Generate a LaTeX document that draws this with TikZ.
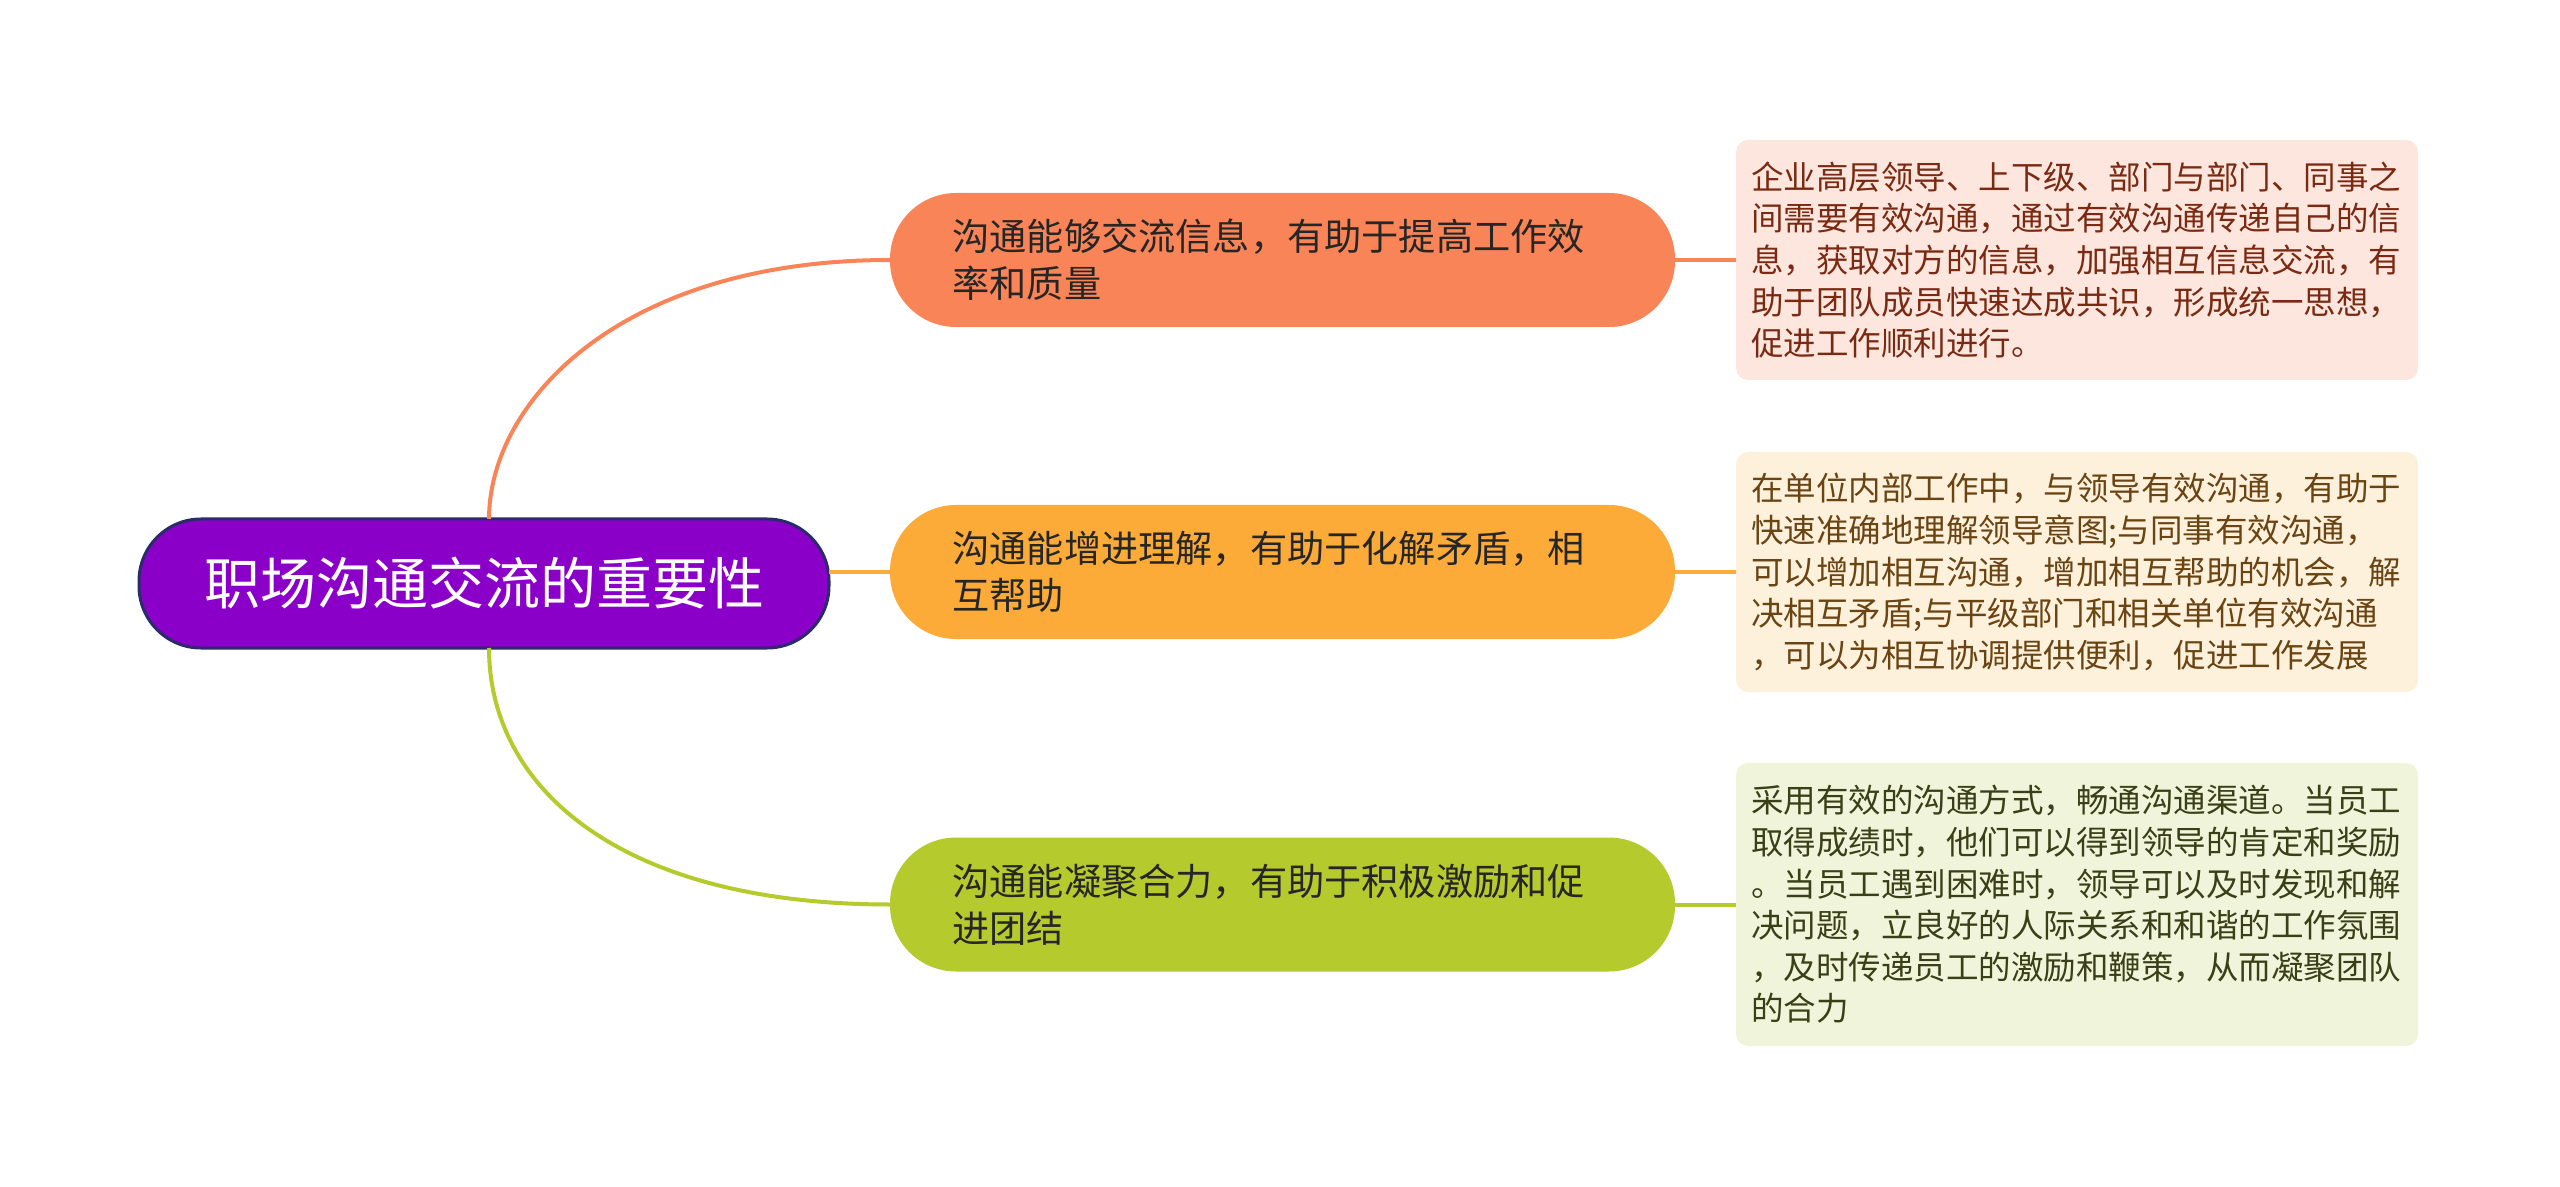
\documentclass[tikz,border=0pt]{standalone}
\usepackage{fontspec}
\setmainfont{Noto Sans CJK SC}
\usepackage{tikz}
\usetikzlibrary{positioning}
\definecolor{rootfill}{HTML}{8A00C8}
\definecolor{rootline}{HTML}{2B2B6B}
\definecolor{coral}{HTML}{F98457}
\definecolor{amber}{HTML}{FCAB38}
\definecolor{lime}{HTML}{B5CA2D}
\definecolor{coralbg}{HTML}{FDE6DE}
\definecolor{amberbg}{HTML}{FEF1DC}
\definecolor{limebg}{HTML}{F0F4DA}
\definecolor{coraltxt}{HTML}{7A2A12}
\definecolor{ambertxt}{HTML}{6A4412}
\definecolor{limetxt}{HTML}{3A3F18}

\begin{document}
\begin{tikzpicture}[x=0.5pt,y=-0.5pt,
    every node/.style={outer sep=0pt},
    rootbox/.style={fill=rootfill, draw=rootline, line width=1.5pt, rounded corners=31pt,
        minimum width=345pt, minimum height=64.5pt, text=white,
        font=\fontsize{28pt}{32pt}\selectfont},
    topic/.style={fill=#1, rounded corners=33pt, text width=330pt, align=left,
        inner xsep=31.25pt, minimum height=67pt, text=black!85,
        font=\fontsize{18.6pt}{23.5pt}\selectfont},
    note/.style={fill=#1, rounded corners=6pt, text width=326pt, align=left,
        inner xsep=7.5pt, font=\fontsize{16.25pt}{20.8pt}\selectfont},
    link/.style={draw=#1, line width=2pt}]
    \useasboundingbox (0,0) rectangle (2560,1187);

    \node[rootbox] (root) at (484,583.5) {职场沟通交流的重要性};

    \node[topic=coral] (t1) at (1282.5,260) {沟通能够交流信息，有助于提高工作效\\率和质量};
    \node[topic=amber] (t2) at (1282.5,572) {沟通能增进理解，有助于化解矛盾，相\\互帮助};
    \node[topic=lime] (t3) at (1282.5,904.5) {沟通能凝聚合力，有助于积极激励和促\\进团结};

    \node[note=coralbg, text=coraltxt, minimum height=120pt, right=30.5pt of t1] (n1)
        {企业高层领导、上下级、部门与部门、同事之\\间需要有效沟通，通过有效沟通传递自己的信\\息，获取对方的信息，加强相互信息交流，有\\助于团队成员快速达成共识，形成统一思想，\\促进工作顺利进行。};
    \node[note=amberbg, text=ambertxt, minimum height=120pt, right=30.5pt of t2] (n2)
        {在单位内部工作中，与领导有效沟通，有助于\\快速准确地理解领导意图;与同事有效沟通，\\可以增加相互沟通，增加相互帮助的机会，解\\决相互矛盾;与平级部门和相关单位有效沟通\\，可以为相互协调提供便利，促进工作发展};
    \node[note=limebg, text=limetxt, minimum height=141.5pt, right=30.5pt of t3] (n3)
        {采用有效的沟通方式，畅通沟通渠道。当员工\\取得成绩时，他们可以得到领导的肯定和奖励\\。当员工遇到困难时，领导可以及时发现和解\\决问题，立良好的人际关系和和谐的工作氛围\\，及时传递员工的激励和鞭策，从而凝聚团队\\的合力};

    \draw[link=coral] ([xshift=2.5pt]root.north) .. controls +(0,-117) and +(-270,0) .. (t1.west);
    \draw[link=amber] (root.east |- t2.west) -- (t2.west);
    \draw[link=lime] ([xshift=2.5pt]root.south) .. controls +(0,140) and +(-270,0) .. (t3.west);

    \draw[link=coral] (t1.east) -- (n1.west);
    \draw[link=amber] (t2.east) -- (n2.west);
    \draw[link=lime] (t3.east) -- (n3.west);
\end{tikzpicture}
\end{document}
